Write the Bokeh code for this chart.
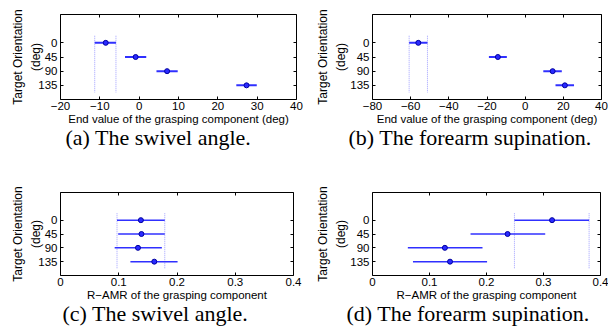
from bokeh.plotting import figure
from bokeh.layouts import column, row
from bokeh.models import Range1d, FixedTicker, LinearAxis, Title
from bokeh.embed import file_html
from bokeh.resources import INLINE

# ---- data ----
targets = [0, 45, 90, 135]
target_labels = ["0", "45", "90", "135"]

# (a) swivel angle, end value (deg)
a_mean = [-8.5, -0.9, 7.1, 27.3]
a_low = [-11.3, -3.6, 4.4, 24.7]
a_high = [-5.9, 1.8, 9.8, 29.9]

# (b) forearm supination, end value (deg)
b_mean = [-56.0, -14.3, 14.4, 20.8]
b_low = [-60.8, -19.0, 9.5, 15.9]
b_high = [-51.2, -9.6, 19.2, 25.6]

# (c) swivel angle, R-AMR
c_mean = [0.138, 0.139, 0.133, 0.161]
c_low = [0.097, 0.099, 0.093, 0.120]
c_high = [0.179, 0.179, 0.174, 0.201]

# (d) forearm supination, R-AMR
d_mean = [0.315, 0.237, 0.127, 0.136]
d_low = [0.249, 0.172, 0.062, 0.071]
d_high = [0.380, 0.303, 0.193, 0.201]

xticks_a = [-20, -10, 0, 10, 20, 30, 40]
xticks_b = [-80, -60, -40, -20, 0, 20, 40]
xticks_cd = [0, 0.1, 0.2, 0.3, 0.4]

xlabel_end = "End value of the grasping component (deg)"
xlabel_amr = "R\u2212AMR of the grasping component"
ylabel = "Target Orientation\n(deg)"
captions = ["(a) The swivel angle.", "(b) The forearm supination.",
            "(c) The swivel angle.", "(d) The forearm supination."]

SANS = "Liberation Sans"
SERIF = "Liberation Serif"


def fmt(v):
    s = f"{v:g}"
    return s.replace("-", "\u2212")


def panel(mean, low, high, xticks, xlabel, caption, fw, fh,
          bl, br, bt, bb, cap_off, lw, ylab_standoff):
    p = figure(frame_width=fw, frame_height=fh,
               x_range=Range1d(xticks[0], xticks[-1]),
               y_range=Range1d(180, -90),
               output_backend="svg", toolbar_location=None,
               min_border_left=bl, min_border_right=br,
               min_border_top=bt, min_border_bottom=bb)
    p.grid.visible = False
    p.outline_line_color = "black"
    p.outline_line_alpha = 1.0
    p.outline_line_width = 1
    p.background_fill_color = "white"
    p.border_fill_color = "white"

    half = (targets[1] - targets[0]) / 2
    p.segment(x0=[low[0], high[0]], y0=[targets[0] - half] * 2,
              x1=[low[0], high[0]], y1=[targets[-1] + half] * 2,
              line_color="#a0a0ff", line_width=1, line_dash="1 1")
    p.segment(x0=low, y0=targets, x1=high, y1=targets,
              line_color="#3030ff", line_width=lw)
    p.scatter(x=mean, y=targets, size=5, marker="circle",
              fill_color="#2a2aff", line_color="#0000a0", line_width=1)

    xt = FixedTicker(ticks=xticks)
    yt = FixedTicker(ticks=targets)
    xov = {v: fmt(v) for v in xticks}
    yov = {t: l for t, l in zip(targets, target_labels)}

    ax = p.xaxis[0]
    ax.ticker = xt
    ax.major_label_overrides = xov
    ax.axis_label = xlabel
    ay = p.yaxis[0]
    ay.ticker = yt
    ay.major_label_overrides = yov
    ay.axis_label = ylabel
    for a in (ax, ay):
        a.axis_line_color = None
        a.major_tick_in = 3
        a.major_tick_out = 0
        a.minor_tick_line_color = None
        a.major_tick_line_color = "black"
        a.major_label_text_font = SANS
        a.major_label_text_font_size = "11.5px"
        a.major_label_text_color = "black"
        a.axis_label_text_font = SANS
        a.axis_label_text_font_style = "normal"
        a.axis_label_text_color = "black"
    ax.major_label_standoff = 2
    ay.major_label_standoff = 3
    ax.axis_label_text_font_size = "11.5px"
    ay.axis_label_text_font_size = "12px"
    ay.axis_label_text_line_height = 1.3
    ax.axis_label_standoff = 0
    ay.axis_label_standoff = ylab_standoff

    top = LinearAxis(ticker=FixedTicker(ticks=xticks))
    right = LinearAxis(ticker=FixedTicker(ticks=targets))
    for a in (top, right):
        a.axis_line_color = None
        a.major_tick_in = 3
        a.major_tick_out = 0
        a.minor_tick_line_color = None
        a.major_label_text_font_size = "0px"
        a.major_label_standoff = 0
        a.major_label_text_alpha = 0
    p.add_layout(top, "above")
    p.add_layout(right, "right")

    t = Title(text=caption, align="left", offset=cap_off,
              text_font=SERIF, text_font_size="22px",
              text_font_style="normal", text_color="black", standoff=-10)
    p.add_layout(t, "below")
    return p


pa = panel(a_mean, a_low, a_high, xticks_a, xlabel_end, captions[0],
           236, 85, 60, 8, 14, 67, 5, 2, -8)
pb = panel(b_mean, b_low, b_high, xticks_b, xlabel_end, captions[1],
           229, 85, 68, 7, 14, 67, -24, 2, -1)
pc = panel(c_mean, c_low, c_high, xticks_cd, xlabel_amr, captions[2],
           233, 83, 60, 11, 26, 57, 2, 1.5, -8)
pd = panel(d_mean, d_low, d_high, xticks_cd, xlabel_amr, captions[3],
           228, 83, 68, 8, 26, 57, -26, 1.5, -1)

layout = column(row(pa, pb), row(pc, pd))
open("out.html", "w").write(file_html(layout, INLINE))
